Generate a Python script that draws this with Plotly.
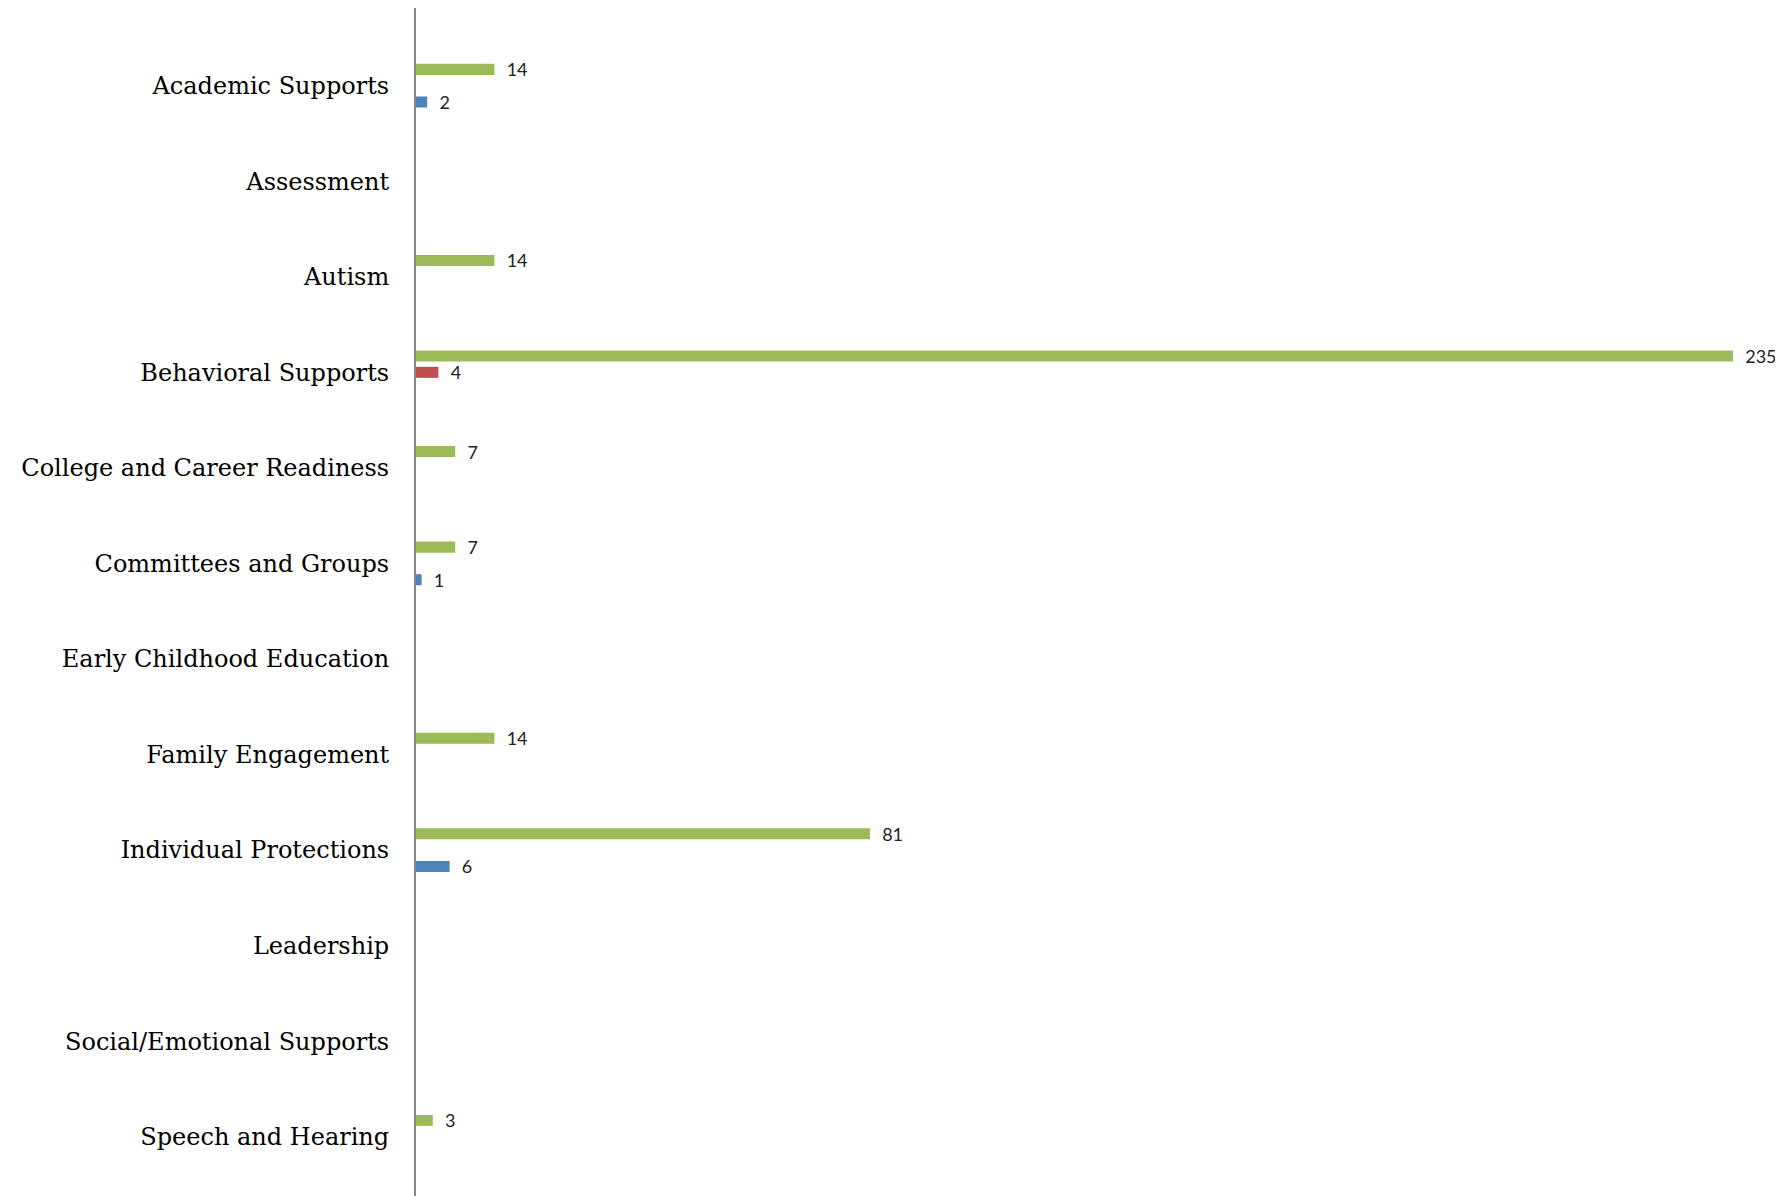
import plotly.graph_objects as go

categories = ["Academic Supports", "Assessment", "Autism", "Behavioral Supports",
              "College and Career Readiness", "Committees and Groups",
              "Early Childhood Education", "Family Engagement", "Individual Protections",
              "Leadership", "Social/Emotional Supports", "Speech and Hearing"]
green_vals = [14, 0, 14, 235, 7, 7, 0, 14, 81, 0, 0, 3]
red_vals = [0, 0, 0, 4, 0, 0, 0, 0, 0, 0, 0, 0]
blue_vals = [2, 0, 0, 0, 0, 1, 0, 0, 6, 0, 0, 0]

series = [("Series 1", green_vals, "#9BBB59"),
          ("Series 2", red_vals, "#C0504D"),
          ("Series 3", blue_vals, "#4F81BD")]

fig = go.Figure()
for name, vals, col in series:
    fig.add_trace(go.Bar(
        y=categories, x=vals, orientation="h", name=name,
        marker=dict(color=col, line=dict(width=0)),
        text=["\u00a0\u00a0" + str(v) if v else "" for v in vals],
        textposition="outside", cliponaxis=False, constraintext="none",
        textfont=dict(family="Lato", size=18, color="#222222"),
    ))

fig.update_layout(
    width=1783, height=1196,
    margin=dict(l=408, r=30, t=0, b=0),
    paper_bgcolor="white", plot_bgcolor="white",
    barmode="group", bargap=0.488, bargroupgap=0.325,
    showlegend=False,
    xaxis=dict(range=[0, 240], showgrid=False, zeroline=False, showline=False,
               showticklabels=False, ticks=""),
    yaxis=dict(range=[11.704, -0.813], showgrid=False, zeroline=False,
               showline=True, linecolor="#868686", linewidth=2, ticks="",
               ticklabelstandoff=20,
               tickfont=dict(family="DejaVu Serif", size=24, color="#000000")),
)
fig.write_html("out.html")
